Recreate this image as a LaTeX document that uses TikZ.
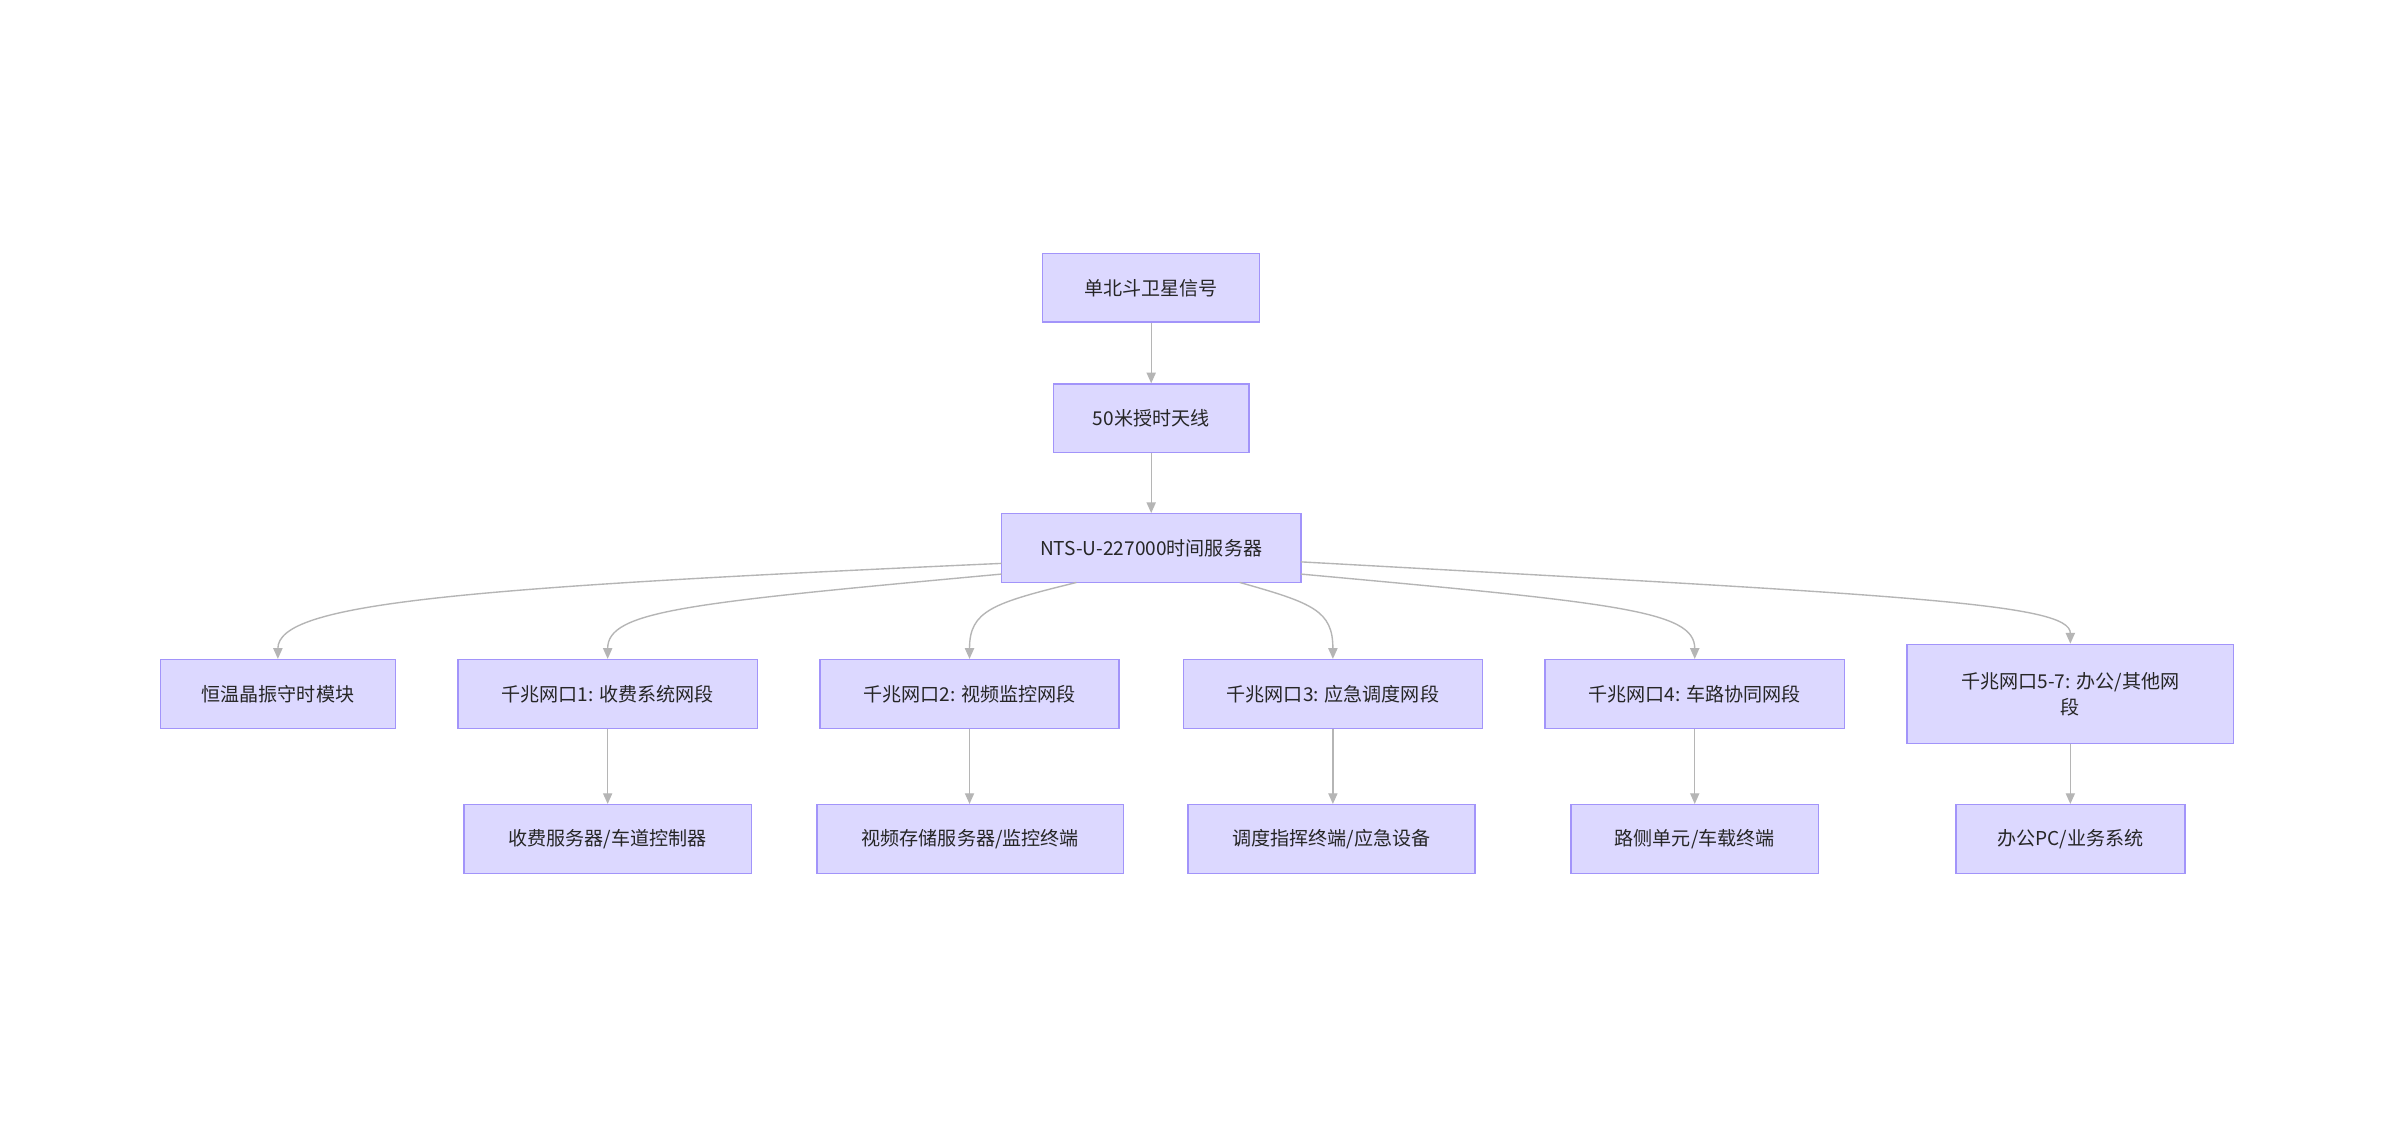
\documentclass[tikz,border=0pt]{standalone}
\usepackage{fontspec}
\setmainfont{Noto Sans CJK SC}
\usetikzlibrary{arrows.meta}
\definecolor{bfill}{HTML}{DCD8FF}
\definecolor{bdraw}{HTML}{A294FA}
\definecolor{edgec}{HTML}{B5B5B5}
\begin{document}
\begin{tikzpicture}[x=1pt,y=-1pt,
  box/.style={draw=bdraw,fill=bfill,line width=0.9pt,minimum height=45pt,inner sep=0pt,align=center,font=\fontsize{12.5}{17}\selectfont,text=black!85},
  edge/.style={draw=edgec,line width=0.9pt,-{Triangle[length=7pt,width=6pt]}}]
\useasboundingbox[fill=white] (0,0) rectangle (1568,739);
\node[box,minimum width=142pt] (sat) at (754,188.5) {单北斗卫星信号};
\node[box,minimum width=128pt] (ant) at (754,274) {50米授时天线};
\node[box,minimum width=196pt] (nts) at (754,359) {NTS-U-227000时间服务器};
\node[box,minimum width=154pt] (ocx) at (182,454.5) {恒温晶振守时模块};
\node[box,minimum width=196pt] (p1) at (398,454.5) {千兆网口1: 收费系统网段};
\node[box,minimum width=196pt] (p2) at (635,454.5) {千兆网口2: 视频监控网段};
\node[box,minimum width=196pt] (p3) at (873,454.5) {千兆网口3: 应急调度网段};
\node[box,minimum width=196pt] (p4) at (1110,454.5) {千兆网口4: 车路协同网段};
\node[box,minimum width=214pt,minimum height=65pt] (p5) at (1356,454.5) {千兆网口5-7: 办公/其他网\\段};
\node[box,minimum width=188pt] (d1) at (398,549.5) {收费服务器/车道控制器};
\node[box,minimum width=201pt] (d2) at (635.5,549.5) {视频存储服务器/监控终端};
\node[box,minimum width=188pt] (d3) at (872,549.5) {调度指挥终端/应急设备};
\node[box,minimum width=162pt] (d4) at (1110,549.5) {路侧单元/车载终端};
\node[box,minimum width=150pt] (d5) at (1356,549.5) {办公PC/业务系统};
\draw[edge] (sat) -- (ant);
\draw[edge] (ant) -- (nts);
\coordinate (s0) at (656,369);
\coordinate (s1) at (656,376);
\coordinate (s2) at (705,381.5);
\coordinate (s3) at (812,381.5);
\coordinate (s4) at (852,376);
\coordinate (s5) at (852,368);
\draw[edge] (s0) .. controls (300,385) and (182,395) .. (ocx.north);
\draw[edge] (s1) .. controls (450,395) and (398,400) .. (p1.north);
\draw[edge] (s2) .. controls (650,395) and (635,400) .. (p2.north);
\draw[edge] (s3) .. controls (860,395) and (873,400) .. (p3.north);
\draw[edge] (s4) .. controls (1060,395) and (1110,400) .. (p4.north);
\draw[edge] (s5) .. controls (1250,390) and (1356,395) .. (p5.north);
\draw[edge] (p1) -- (d1);
\draw[edge] (p2) -- (p2 |- d2.north);
\draw[edge] (p3) -- (p3 |- d3.north);
\draw[edge] (p4) -- (d4);
\draw[edge] (p5) -- (d5);
\end{tikzpicture}
\end{document}
